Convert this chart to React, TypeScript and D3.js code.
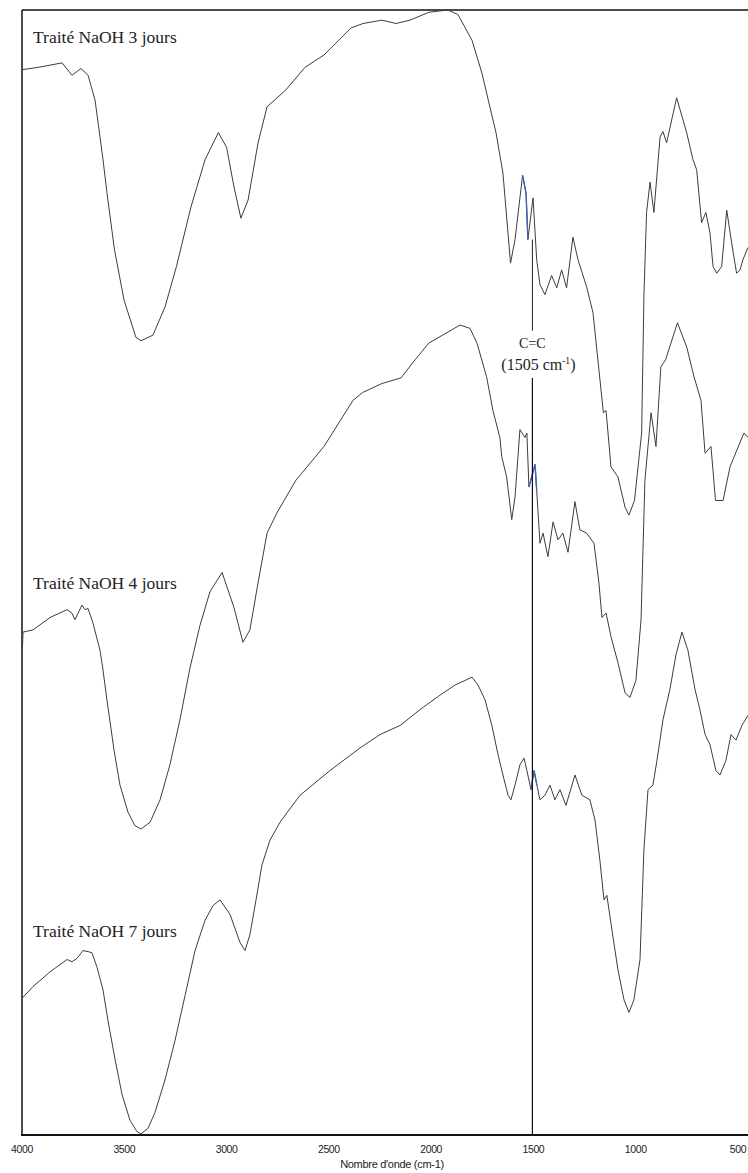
import React from "react";
import * as d3 from "d3";

// Wavenumber (cm-1) ticks on the bottom axis
const X_TICKS = [4000, 3500, 3000, 2500, 2000, 1500, 1000, 500];
const X_TITLE = "Nombre d'onde (cm-1)";

// Series: [wavenumber cm-1, transmittance (arbitrary %)]
const SERIES_3J: [number, number][] = [
  [3998, 94.7], [3922, 94.9], [3804, 95.3], [3756, 94.2], [3712, 94.8], [3677, 94.2],
  [3643, 92.0], [3604, 86.7], [3585, 83.8], [3548, 78.7], [3501, 74.2], [3443, 70.9],
  [3418, 70.6], [3360, 71.1], [3301, 73.6], [3245, 77.2], [3174, 82.5], [3105, 86.7],
  [3040, 89.1], [3000, 87.8], [2964, 84.3], [2930, 81.5], [2895, 83.1], [2846, 88.2],
  [2802, 91.4], [2710, 92.9], [2617, 94.9], [2524, 96.0], [2392, 98.4], [2333, 98.8],
  [2240, 99.1], [2172, 98.8], [2103, 99.1], [2011, 99.8], [1918, 100], [1869, 99.6],
  [1800, 97.3], [1752, 94.4], [1683, 89.1], [1649, 85.5], [1612, 77.5], [1590, 79.6],
  [1553, 85.3], [1536, 83.7], [1527, 79.6], [1502, 83.3], [1484, 77.8], [1468, 75.6],
  [1444, 74.7], [1411, 76.4], [1386, 75.3], [1362, 76.9], [1338, 75.3], [1307, 79.8],
  [1282, 77.8], [1240, 75.4], [1209, 73.1], [1158, 64.2], [1145, 64.4], [1121, 59.4],
  [1087, 58.5], [1052, 55.8], [1033, 55.1], [1006, 56.4], [971, 62.4], [960, 74.5],
  [947, 82.0], [930, 84.7], [911, 82.0], [881, 88.7], [867, 89.2], [849, 88.2],
  [800, 92.2], [751, 89.1], [720, 86.7], [702, 85.8], [678, 81.1], [657, 82.0],
  [637, 80.2], [622, 77.2], [604, 76.6], [580, 77.2], [555, 82.2], [531, 79.3],
  [507, 76.6], [490, 76.9], [476, 77.8], [451, 78.9],
];

const SERIES_4J: [number, number][] = [
  [3998, 43.2], [3995, 44.7], [3946, 44.9], [3863, 46.0], [3780, 46.7], [3756, 46.4],
  [3741, 45.8], [3707, 47.1], [3692, 46.7], [3677, 46.8], [3653, 45.5], [3619, 43.1],
  [3606, 41.6], [3585, 38.7], [3550, 34.2], [3521, 31.1], [3482, 28.7], [3448, 27.5],
  [3418, 27.2], [3374, 27.8], [3325, 29.8], [3277, 32.9], [3228, 36.9], [3179, 41.5],
  [3130, 45.3], [3081, 48.3], [3022, 50.0], [2964, 46.9], [2920, 43.8], [2886, 44.9],
  [2846, 49.1], [2802, 53.5], [2754, 55.3], [2661, 58.2], [2524, 61.2], [2382, 65.3],
  [2335, 66.0], [2240, 66.8], [2147, 67.3], [2079, 68.9], [2011, 70.4], [1915, 71.4],
  [1859, 72.0], [1810, 71.7], [1776, 70.4], [1729, 67.4], [1698, 64.4], [1664, 62.0],
  [1655, 60.3], [1631, 58.5], [1606, 54.7], [1590, 56.7], [1566, 62.7], [1541, 62.0],
  [1532, 62.4], [1522, 57.6], [1492, 59.6], [1484, 57.3], [1468, 52.6], [1453, 53.5],
  [1429, 51.4], [1404, 54.5], [1380, 52.9], [1356, 53.5], [1331, 51.8], [1297, 56.3],
  [1273, 53.8], [1240, 53.5], [1204, 52.6], [1180, 49.1], [1165, 46.0], [1145, 46.4],
  [1121, 44.3], [1087, 42.0], [1052, 39.3], [1028, 38.9], [999, 40.4], [974, 45.8],
  [955, 58.2], [925, 64.2], [901, 61.2], [877, 68.3], [854, 68.9], [796, 72.2],
  [750, 70.0], [715, 67.4], [681, 65.3], [661, 60.6], [632, 61.2], [610, 56.4],
  [573, 56.4], [539, 59.4], [505, 60.9], [471, 62.4], [451, 62.0],
];

const SERIES_7J: [number, number][] = [
  [3997, 12.2], [3946, 13.2], [3863, 14.5], [3780, 15.6], [3756, 15.4], [3731, 15.7],
  [3702, 16.4], [3677, 16.3], [3658, 16.2], [3633, 14.9], [3604, 12.9], [3580, 10.2],
  [3545, 6.7], [3511, 3.6], [3472, 1.3], [3438, 0.3], [3418, 0.1], [3384, 0.6],
  [3350, 2.0], [3301, 4.9], [3252, 8.4], [3203, 12.4], [3154, 16.4], [3105, 19.1],
  [3066, 20.4], [3032, 20.9], [2983, 19.6], [2934, 17.1], [2910, 16.4], [2886, 17.8],
  [2856, 20.9], [2827, 24.0], [2788, 26.2], [2739, 27.8], [2641, 30.2], [2494, 32.4],
  [2348, 34.4], [2250, 35.6], [2152, 36.4], [2055, 37.8], [1957, 39.1], [1883, 40.0],
  [1835, 40.4], [1800, 40.7], [1771, 40.0], [1737, 38.7], [1703, 36.4], [1673, 33.8],
  [1649, 32.0], [1624, 30.2], [1610, 29.8], [1590, 31.1], [1566, 32.9], [1546, 33.5],
  [1532, 32.4], [1512, 30.7], [1497, 32.4], [1483, 31.1], [1468, 29.8], [1444, 30.2],
  [1419, 31.1], [1395, 29.8], [1370, 30.7], [1341, 29.3], [1297, 32.0], [1263, 30.2],
  [1224, 29.8], [1199, 28.0], [1175, 24.4], [1155, 20.9], [1141, 21.3], [1116, 18.2],
  [1087, 14.7], [1057, 12.0], [1033, 10.9], [1009, 12.0], [979, 15.6], [960, 25.3],
  [940, 30.7], [916, 31.1], [896, 33.3], [867, 36.9], [833, 39.6], [803, 42.7],
  [774, 44.7], [745, 43.1], [710, 39.6], [686, 37.8], [661, 35.6], [637, 34.7],
  [608, 32.4], [588, 32.0], [559, 33.3], [534, 35.6], [510, 35.1], [481, 36.4],
  [451, 37.3],
];

const SERIES = [
  { name: "Traité NaOH 3 jours", data: SERIES_3J, labelT: 97.1, blue: [1556, 1524] },
  { name: "Traité NaOH 4 jours", data: SERIES_4J, labelT: 48.5, blue: [1524, 1480] },
  { name: "Traité NaOH 7 jours", data: SERIES_7J, labelT: 17.6, blue: [1515, 1480] },
];

// Annotation for the C=C band
const MARKER_WN = 1505;
const MARKER_TOP_T = 79.6;
const MARKER_GAP_T: [number, number] = [71.5, 67.3];
const MARKER_TEXT_T: [number, number] = [70.0, 68.0];

const W = 748;
const H = 1173;
const LEFT = 22;
const TOP = 10;
const BOTTOM = 1135;

export default function App() {
  const x = d3.scaleLinear().domain([4000, 500]).range([LEFT, 738]);
  const y = d3.scaleLinear().domain([0, 100]).range([BOTTOM, TOP]);
  const line = d3
    .line<[number, number]>()
    .x((d) => x(d[0]))
    .y((d) => y(d[1]))
    .curve(d3.curveLinear);

  const curveColor = "#3c3c3c";
  const serif = "'Liberation Serif', 'Times New Roman', serif";
  const sans = "'Liberation Sans', Arial, sans-serif";
  const mx = x(MARKER_WN);

  return (
    <svg
      width={W}
      height={H}
      style={{ position: "absolute", left: 0, top: 0, background: "#fff" }}
    >
      <rect x={0} y={0} width={W} height={H} fill="#fff" />
      <defs>
        <clipPath id="plot">
          <rect x={LEFT} y={TOP - 2} width={W - LEFT} height={BOTTOM - TOP + 2} />
        </clipPath>
      </defs>

      {/* frame */}
      <line x1={LEFT} x2={W} y1={TOP} y2={TOP} stroke="#111" strokeWidth={1.5} />
      <line x1={LEFT} x2={LEFT} y1={TOP} y2={BOTTOM} stroke="#111" strokeWidth={1.5} />
      <line x1={LEFT - 1} x2={W} y1={BOTTOM} y2={BOTTOM} stroke="#111" strokeWidth={2.2} />

      {/* curves */}
      <g clipPath="url(#plot)">
        {SERIES.map((s) => (
          <g key={s.name}>
            <path d={line(s.data) || ""} fill="none" stroke={curveColor} strokeWidth={1} />
            <path
              d={line(s.data.filter((d) => d[0] <= s.blue[0] && d[0] >= s.blue[1])) || ""}
              fill="none"
              stroke="#4a5fb0"
              strokeWidth={1.4}
            />
          </g>
        ))}
      </g>

      {/* C=C marker */}
      <line x1={mx} x2={mx} y1={y(MARKER_TOP_T)} y2={y(MARKER_GAP_T[0])} stroke="#222" strokeWidth={1} />
      <line x1={mx} x2={mx} y1={y(MARKER_GAP_T[1])} y2={BOTTOM} stroke="#111" strokeWidth={1.2} />
      <text x={mx} y={y(MARKER_TEXT_T[0])} textAnchor="middle" fontFamily={serif} fontSize={14} fill="#222">
        C=C
      </text>
      <text x={mx + 6} y={y(MARKER_TEXT_T[1])} textAnchor="middle" fontFamily={serif} fontSize={16} fill="#222">
        (1505 cm
        <tspan dy={-6} fontSize={9.5}>-1</tspan>
        <tspan dy={6}>)</tspan>
      </text>

      {/* series labels */}
      {SERIES.map((s) => (
        <text key={s.name} x={33} y={y(s.labelT)} fontFamily={serif} fontSize={17.5} fill="#222">
          {s.name}
        </text>
      ))}

      {/* axis tick labels */}
      {X_TICKS.map((t) => (
        <text
          key={t}
          x={x(t)}
          y={1153}
          textAnchor="middle"
          fontFamily={sans}
          fontSize={10.5}
          fill="#222"
          letterSpacing={-0.4}
        >
          {t}
        </text>
      ))}
      <text x={392} y={1168} textAnchor="middle" fontFamily={sans} fontSize={11} fill="#222" letterSpacing={-0.3}>
        {X_TITLE}
      </text>
    </svg>
  );
}
